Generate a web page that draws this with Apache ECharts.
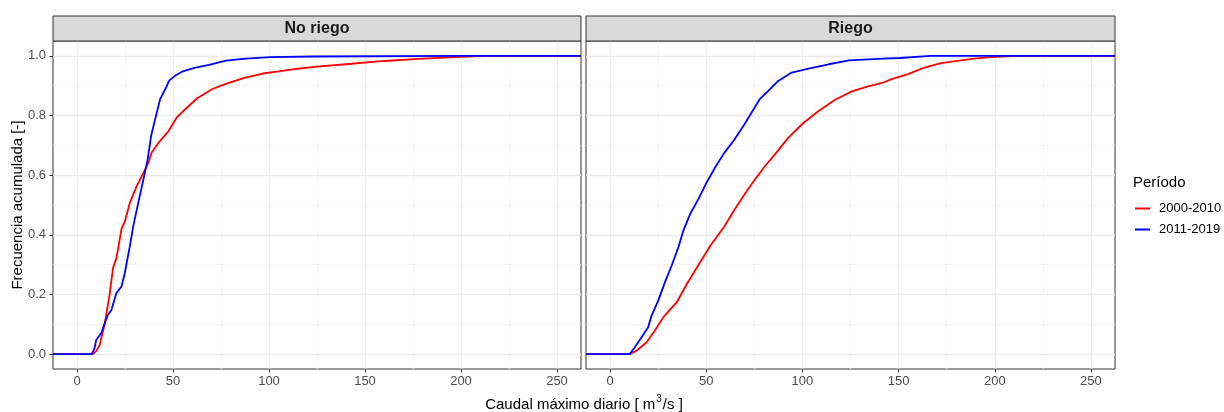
<!DOCTYPE html>
<html>
<head>
<meta charset="utf-8">
<script src="https://cdn.jsdelivr.net/npm/echarts@6/dist/echarts.min.js"></script>
<style>
  html, body { margin: 0; padding: 0; background: #ffffff; }
  #chart { width: 1224px; height: 412px; }
</style>
</head>
<body>
<div id="chart"></div>
<script>
// Empirical cumulative frequency of daily maximum discharge, [caudal, frecuencia]
const noRiego_2000_2010 = [
  [8.2, 0], [10, 0.01], [11.8, 0.03], [14.4, 0.10], [17.0, 0.20], [18.8, 0.29],
  [20.5, 0.32], [23.2, 0.42], [24.9, 0.445], [27.5, 0.507], [31.1, 0.563],
  [34.6, 0.608], [37.2, 0.642], [38.9, 0.676], [42.5, 0.709], [47.7, 0.748],
  [52.1, 0.795], [56.5, 0.822], [62.6, 0.858], [70.5, 0.889], [77.5, 0.906],
  [87.2, 0.926], [96.8, 0.941], [105, 0.948], [115, 0.957], [125, 0.964],
  [140, 0.972], [160, 0.983], [180, 0.991], [200, 0.997], [213, 1.0]
];
const noRiego_2011_2019 = [
  [7.7, 0], [9.1, 0.019], [10, 0.047], [12.6, 0.07], [14.4, 0.103], [16.1, 0.131],
  [17.9, 0.148], [20.5, 0.204], [23.2, 0.227], [24.9, 0.272], [27.5, 0.361],
  [29.3, 0.429], [31.9, 0.507], [34.6, 0.586], [36.8, 0.653], [38.6, 0.732],
  [40.7, 0.788], [43.3, 0.855], [46, 0.889], [48, 0.917], [51.2, 0.934],
  [54.7, 0.947], [61.7, 0.961], [68.8, 0.970], [77.5, 0.984], [86.3, 0.990],
  [100.4, 0.996], [123, 0.998], [200, 1.0]
];
const riego_2000_2010 = [
  [10.2, 0], [13.7, 0.011], [18.9, 0.039], [23.3, 0.079], [27.7, 0.124],
  [34.7, 0.174], [40, 0.236], [45.3, 0.292], [52.3, 0.365], [59.3, 0.427],
  [64.6, 0.483], [69.8, 0.534], [75.1, 0.584], [80.4, 0.629], [85.6, 0.669],
  [92.6, 0.725], [100.5, 0.775], [108.4, 0.815], [117.2, 0.854], [126, 0.882],
  [134.7, 0.899], [141.8, 0.910], [146.4, 0.922], [154.9, 0.939], [163.5, 0.961],
  [172, 0.976], [180.6, 0.983], [189.1, 0.991], [197.6, 0.996], [212.2, 1.0]
];
const riego_2011_2019 = [
  [10.2, 0], [12.8, 0.022], [16.3, 0.056], [19.8, 0.09], [21.6, 0.129],
  [25.1, 0.18], [28.6, 0.242], [32.1, 0.298], [35.6, 0.36], [38.2, 0.416],
  [41.8, 0.472], [46.1, 0.522], [50.5, 0.579], [54.9, 0.629], [59.3, 0.674],
  [64.6, 0.719], [69.8, 0.770], [75.1, 0.826], [77.7, 0.854], [82.1, 0.882],
  [87.4, 0.916], [94.4, 0.944], [103.2, 0.957], [113.7, 0.972], [124.2, 0.985],
  [141.8, 0.991], [150.6, 0.993], [166.7, 1.0]
];

const panels = ['No riego', 'Riego'];
const periods = ['2000-2010', '2011-2019'];
const periodColors = ['#FF0000', '#0000FF'];
const xMajor = [0, 50, 100, 150, 200, 250];
const xMinor = [25, 75, 125, 175, 225];
const yMajor = [0, 0.2, 0.4, 0.6, 0.8, 1.0];
const yMinor = [0.1, 0.3, 0.5, 0.7, 0.9];
const X_MIN = -12.5, X_MAX = 262.5;
const Y_MIN = -0.05, Y_MAX = 1.05;

const FONT = '"Liberation Sans", Arial, sans-serif';

// the step curve runs from the left edge at 0 to the right edge at 1
function padEcdf(pts) {
  return [[X_MIN, 0]].concat(pts, [[X_MAX, 1]]);
}

const grids = [
  { left: 53, top: 41, width: 528, height: 328 },
  { left: 586, top: 41, width: 529, height: 328 }
];

const gridOpts = grids.map(g => Object.assign({
  show: true, borderColor: '#333333', borderWidth: 1, backgroundColor: 'transparent', containLabel: false
}, g));

const xAxes = [];
const yAxes = [];
grids.forEach((g, i) => {
  // major axis with ticks and labels
  xAxes.push({
    type: 'value', gridIndex: i, min: X_MIN, max: X_MAX, position: 'bottom',
    axisLine: { show: false, onZero: false },
    axisTick: { show: true, length: 3.5, customValues: xMajor, lineStyle: { color: '#333333', width: 1 } },
    axisLabel: { customValues: xMajor, color: '#4D4D4D', fontSize: 13, fontFamily: FONT, margin: 6 },
    splitLine: { show: true, lineStyle: { color: '#EBEBEB', width: 1.3 } }
  });
  // minor grid lines
  xAxes.push({
    type: 'value', gridIndex: i, min: X_MIN, max: X_MAX, position: 'bottom',
    axisLine: { show: false, onZero: false },
    axisTick: { show: false, customValues: xMinor },
    axisLabel: { show: false },
    splitLine: { show: true, lineStyle: { color: '#F2F2F2', width: 0.8 } }
  });
  yAxes.push({
    type: 'value', gridIndex: i, min: Y_MIN, max: Y_MAX, position: 'left',
    axisLine: { show: false, onZero: false },
    axisTick: { show: i === 0, length: 3.5, customValues: yMajor, lineStyle: { color: '#333333', width: 1 } },
    axisLabel: { show: i === 0, customValues: yMajor, color: '#4D4D4D', fontSize: 13, fontFamily: FONT, margin: 7,
      formatter: v => v.toFixed(1) },
    splitLine: { show: true, lineStyle: { color: '#EBEBEB', width: 1.3 } }
  });
  yAxes.push({
    type: 'value', gridIndex: i, min: Y_MIN, max: Y_MAX, position: 'left',
    axisLine: { show: false, onZero: false },
    axisTick: { show: false, customValues: yMinor },
    axisLabel: { show: false },
    splitLine: { show: true, lineStyle: { color: '#F2F2F2', width: 0.8 } }
  });
});

const curves = [
  [noRiego_2000_2010, noRiego_2011_2019],
  [riego_2000_2010, riego_2011_2019]
];

const series = [];
curves.forEach((pair, i) => {
  pair.forEach((pts, k) => {
    series.push({
      name: periods[k], type: 'line', xAxisIndex: i * 2, yAxisIndex: i * 2,
      data: padEcdf(pts), symbol: 'none', smooth: false, animation: false,
      lineStyle: { color: periodColors[k], width: 1.8 },
      itemStyle: { color: periodColors[k] },
      z: 3 + k
    });
  });
});

// facet strips
const strips = [];
grids.forEach((g, i) => {
  strips.push({
    type: 'rect', shape: { x: g.left, y: 16, width: g.width, height: 25 },
    style: { fill: '#D9D9D9', stroke: '#333333', lineWidth: 1 }, z: 10
  });
  strips.push({
    type: 'text', x: g.left + g.width / 2, y: 28.5,
    style: { text: panels[i], font: 'bold 16px ' + FONT, fill: '#1A1A1A', align: 'center', verticalAlign: 'middle' }, z: 11
  });
});

const option = {
  backgroundColor: '#ffffff',
  animation: false,
  grid: gridOpts,
  xAxis: xAxes,
  yAxis: yAxes,
  series: series,
  legend: {
    data: periods, orient: 'vertical', left: 1135, top: 202, padding: 0,
    icon: 'rect', itemWidth: 15, itemHeight: 2, itemGap: 8,
    textStyle: { fontSize: 13, fontFamily: FONT, color: '#000000', padding: [0, 0, 0, 4] }
  },
  graphic: strips.concat([
    {
      type: 'text', x: 1133, y: 183,
      style: { text: 'Período', font: '15px ' + FONT, fill: '#000000', verticalAlign: 'middle' }
    },
    {
      type: 'text', x: 18, y: 205, rotation: Math.PI / 2,
      style: { text: 'Frecuencia acumulada [-]', font: '15px ' + FONT, fill: '#000000', align: 'center', verticalAlign: 'middle' }
    },
    {
      type: 'text', x: 584, y: 403,
      style: {
        text: '{t|Caudal máximo diario [ m}{s|3}{t|/s ]}',
        align: 'center', verticalAlign: 'middle',
        rich: {
          t: { font: '15px ' + FONT, fill: '#000000', verticalAlign: 'bottom', lineHeight: 18 },
          s: { font: '10px ' + FONT, fill: '#000000', verticalAlign: 'top', lineHeight: 18, padding: [0, 1, 0, 1] }
        }
      }
    }
  ])
};

const chart = echarts.init(document.getElementById('chart'), null, { renderer: 'canvas' });
chart.setOption(option);
</script>
</body>
</html>
